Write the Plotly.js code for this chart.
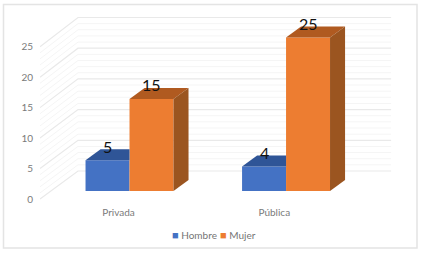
<!DOCTYPE html>
<html><head><meta charset="utf-8">
<script src="https://cdn.plot.ly/plotly-3.0.1.min.js"></script>
<style>html,body{margin:0;padding:0;background:#fff}#c{width:421px;height:255px}</style>
</head><body><div id="c"></div>
<script>
const categories = ['Privada', 'Pública'];
const hombre = [5, 4];
const mujer = [15, 25];
const tickValues = [0, 5, 10, 15, 20, 25];
const minorValues = [1,2,3,4,6,7,8,9,11,12,13,14,16,17,18,19,21,22,23,24];
const seriesNames = ['Hombre', 'Mujer'];
const colors = {blue:'#4472C4', blueTop:'#2F5597', orange:'#ED7D31', orangeTop:'#B05A20', orangeSide:'#9B5520'};

const W = 421, H = 255, mL = 40, mR = 21, mT = 8, mB = 50;
const px = x => (x - mL) / (W - mL - mR);
const py = y => (H - mB - y) / (H - mT - mB);

// 3D look: depth of the bars and of the walls, in axis units
const barW = 0.281, depthX = 0.096, depthY = 1.79;
const wallL = -0.504, wallBackL = -0.26, wallR = 1.75, wallRise = 4.6, wallScale = 1.008;

function gridTrace(vals, color, width) {
  const xs = [], ys = [];
  vals.forEach(v => {
    xs.push(wallL, wallBackL, wallR, null);
    ys.push(v, wallRise + v * wallScale, wallRise + v * wallScale, null);
  });
  return {type:'scatter', mode:'lines', x:xs, y:ys, xaxis:'x', yaxis:'y', hoverinfo:'skip',
          showlegend:false, line:{color:color, width:width}};
}
function poly(xs, ys, color) {
  return {type:'scatter', mode:'lines', x:xs.concat(xs[0]), y:ys.concat(ys[0]), fill:'toself',
          fillcolor:color, line:{width:0, color:color}, xaxis:'x2', yaxis:'y2',
          hoverinfo:'skip', showlegend:false};
}

const idx = categories.map((_, i) => i);
const traces = [
  gridTrace(minorValues, '#f5f5f5', 1),
  gridTrace(tickValues, '#e9e9e9', 1.2),
  {type:'bar', name:seriesNames[0], x:idx, y:hombre, width:barW, offset:-barW, marker:{color:colors.blue}, xaxis:'x2', yaxis:'y2', showlegend:false},
  {type:'bar', name:seriesNames[1], x:idx, y:mujer, width:barW, offset:0, marker:{color:colors.orange}, xaxis:'x2', yaxis:'y2', showlegend:false}
];
idx.forEach(i => {
  const h = hombre[i], m = mujer[i];
  traces.push(poly([i-barW, i-barW+depthX, i, i], [h, h+depthY, h+depthY, h], colors.blueTop));
  traces.push(poly([i, i+depthX, i+barW+depthX, i+barW], [m, m+depthY, m+depthY, m], colors.orangeTop));
  traces.push(poly([i+barW, i+barW+depthX, i+barW+depthX, i+barW], [0, depthY, m+depthY, m], colors.orangeSide));
});

const annotations = [];
const labelFont = {size:16, color:'#111', family:'Lato, sans-serif'};
idx.forEach(i => {
  annotations.push({x:i-barW/2, y:hombre[i], xref:'x2', yref:'y2', text:String(hombre[i]), showarrow:false,
    yshift:14, yanchor:'middle', font:labelFont});
  annotations.push({x:i+barW/2, y:mujer[i], xref:'x2', yref:'y2', text:String(mujer[i]), showarrow:false,
    yshift:14, yanchor:'middle', font:labelFont});
});
const legendX = [171, 218.5];
seriesNames.forEach((n, i) => {
  annotations.push({x:px(legendX[i]), y:py(234), xref:'paper', yref:'paper', xanchor:'left', yanchor:'middle',
    showarrow:false, borderpad:0, text:'<span style="color:'+[colors.blue,colors.orange][i]+';font-size:11px">■</span> '+n,
    font:{size:10, color:'#757575', family:'Lato, sans-serif'}});
});

const font = {size:10, color:'#7a7a7a', family:'Lato, sans-serif'};
const layout = {
  width:W, height:H, margin:{l:mL, r:mR, t:mT, b:mB, pad:0},
  paper_bgcolor:'#fff', plot_bgcolor:'rgba(0,0,0,0)', showlegend:false, hovermode:false,
  barmode:'overlay',
  xaxis:{range:[-0.504, 1.807], tickmode:'array', tickvals:idx, ticktext:categories, showgrid:false, zeroline:false,
         showline:false, ticks:'', tickfont:font, ticklabelstandoff:0},
  yaxis:{range:[-0.985, 31.36], tickmode:'array', tickvals:tickValues, showgrid:false, zeroline:false,
         showline:false, ticks:'', tickfont:font, ticklabelstandoff:6},
  xaxis2:{range:[-0.5719, 1.728], overlaying:'x', visible:false, fixedrange:true},
  yaxis2:{range:[-2.28, 29.80], overlaying:'y', visible:false, fixedrange:true},
  annotations:annotations,
  shapes:[{type:'rect', xref:'paper', yref:'paper', x0:px(3.5), x1:px(417), y0:py(248), y1:py(4.5),
           line:{color:'#e4e4e4', width:1.5}, fillcolor:'rgba(0,0,0,0)', layer:'below'}]
};
Plotly.newPlot('c', traces, layout, {displayModeBar:false, staticPlot:true});
</script></body></html>
